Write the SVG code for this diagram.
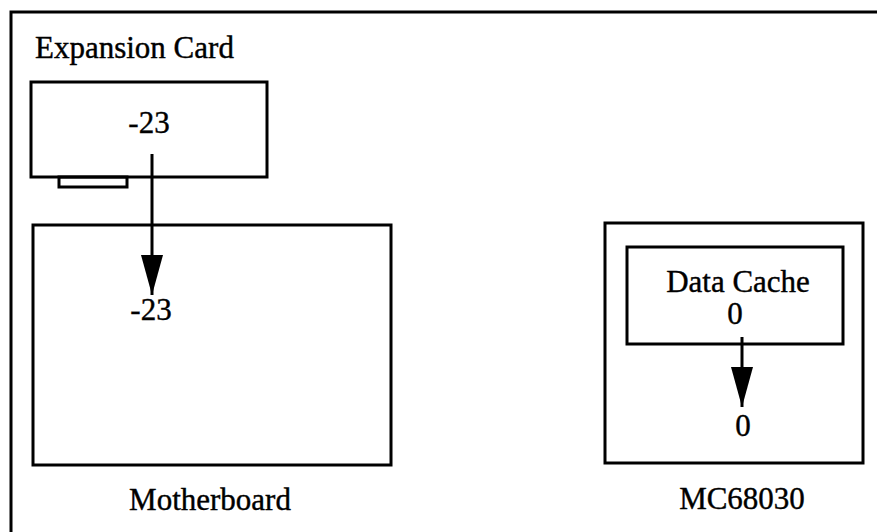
<svg xmlns="http://www.w3.org/2000/svg" width="877" height="532" viewBox="0 0 877 532">
<style>
.box{fill:none;stroke:#000;stroke-width:3}
.t{font-family:"Liberation Serif","Times New Roman",serif;font-size:31px;fill:#000;stroke:#000;stroke-width:0.4}
.c{text-anchor:middle}
.ln{stroke:#000;stroke-width:3;fill:none}
</style>
<defs>
<marker id="ah" markerUnits="userSpaceOnUse" markerWidth="42" markerHeight="24" refX="40" refY="11" orient="auto" viewBox="0 0 42 24">
<path d="M0,0 L40,11 L0,22 Z" fill="#000"/>
</marker>
</defs>
<rect width="877" height="532" fill="#fff"/>
<path class="ln" d="M11,532 V12 H877"/>
<g id="expansion-card">
<text class="t" x="35" y="58">Expansion Card</text>
<rect class="box" x="31" y="82" width="236" height="95"/>
<rect class="box" x="59" y="177" width="68" height="10"/>
<text class="t c" x="149" y="133">-23</text>
</g>
<g id="motherboard">
<rect class="box" x="33" y="225" width="358" height="240"/>
<text class="t c" x="151" y="320">-23</text>
<text class="t c" x="210" y="510">Motherboard</text>
</g>
<g id="mc68030">
<rect class="box" x="605" y="223" width="258" height="240"/>
<text class="t c" x="743" y="436">0</text>
<text class="t c" x="742" y="509">MC68030</text>
</g>
<g id="data-cache">
<rect class="box" x="627" y="247" width="216" height="97"/>
<text class="t c" x="738" y="292">Data Cache</text>
<text class="t c" x="735" y="324">0</text>
</g>
<g id="connectors">
<line class="ln" x1="152" y1="154" x2="152" y2="295" marker-end="url(#ah)"/>
<line class="ln" x1="742" y1="337" x2="742" y2="407" marker-end="url(#ah)"/>
</g>
</svg>
